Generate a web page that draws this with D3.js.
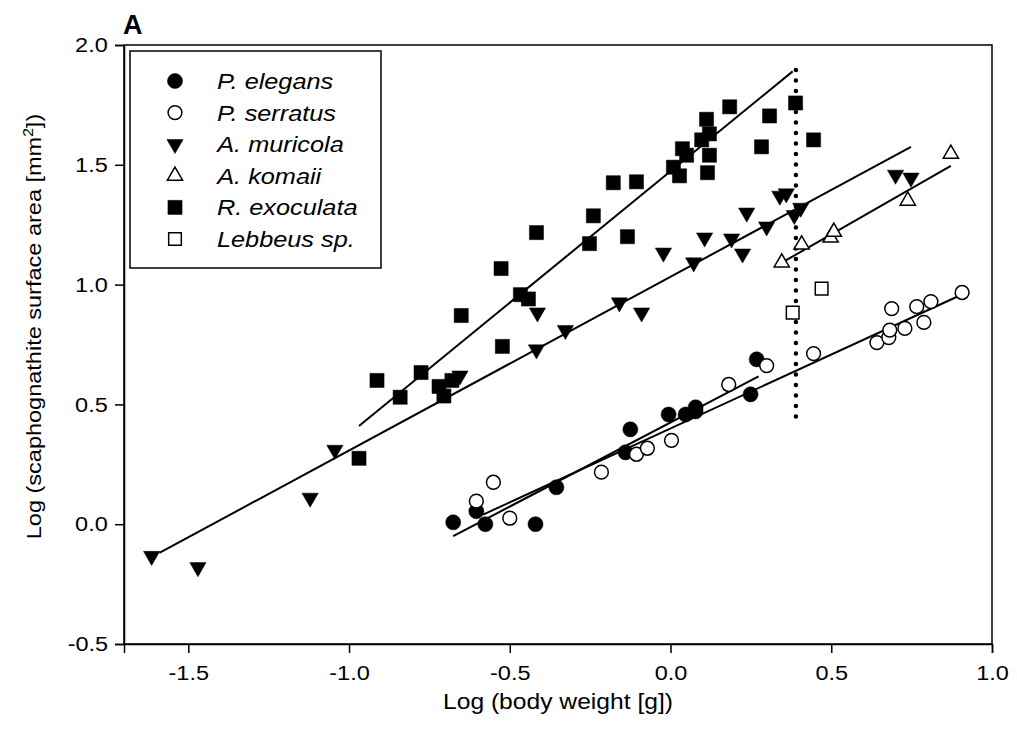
<!DOCTYPE html>
<html>
<head>
<meta charset="utf-8">
<script src="https://cdn.jsdelivr.net/npm/d3@7"></script>
<style>
  body { margin: 0; background: #fff; }
  svg { display: block; font-family: "Liberation Sans", Arial, sans-serif; }
  .wide { transform-box: fill-box; transform-origin: center; transform: scaleX(1.12); }
</style>
</head>
<body>
<svg id="chart" width="1017" height="731"></svg>
<script>
// Values (log body weight, log scaphognathite area)
const pElegans = [
  [-0.676, 0.008], [-0.604, 0.054], [-0.576, 0.0], [-0.42, 0.0], [-0.355, 0.154],
  [-0.14, 0.30], [-0.125, 0.396], [-0.006, 0.458], [0.047, 0.458], [0.078, 0.471],
  [0.078, 0.488], [0.249, 0.542], [0.268, 0.688]
];
const pSerratus = [
  [-0.604, 0.096], [-0.551, 0.175], [-0.50, 0.025], [-0.215, 0.217], [-0.106, 0.292],
  [-0.072, 0.317], [0.003, 0.35], [0.181, 0.583], [0.299, 0.662], [0.445, 0.712],
  [0.642, 0.758], [0.679, 0.779], [0.682, 0.81], [0.688, 0.90], [0.729, 0.817],
  [0.766, 0.908], [0.788, 0.842], [0.81, 0.929], [0.907, 0.967]
];
const aMuricola = [
  [-1.614, -0.133], [-1.47, -0.18], [-1.121, 0.11], [-1.044, 0.31], [-0.655, 0.62],
  [-0.414, 0.883], [-0.417, 0.729], [-0.327, 0.81], [-0.159, 0.925], [-0.09, 0.883],
  [-0.022, 1.133], [0.072, 1.092], [0.106, 1.196], [0.19, 1.192], [0.224, 1.129],
  [0.237, 1.30], [0.299, 1.242], [0.34, 1.37], [0.36, 1.38], [0.385, 1.29],
  [0.405, 1.32], [0.70, 1.458], [0.748, 1.446]
];
const aKomaii = [
  [0.346, 1.092], [0.408, 1.167], [0.498, 1.196], [0.508, 1.22], [0.738, 1.35], [0.872, 1.546]
];
const rExoculata = [
  [-0.969, 0.275], [-0.913, 0.60], [-0.841, 0.53], [-0.776, 0.633], [-0.72, 0.575],
  [-0.705, 0.535], [-0.68, 0.60], [-0.651, 0.871], [-0.523, 0.742], [-0.527, 1.067],
  [-0.467, 0.958], [-0.442, 0.94], [-0.417, 1.217], [-0.252, 1.171], [-0.24, 1.287],
  [-0.134, 1.20], [-0.178, 1.425], [-0.106, 1.429], [0.009, 1.49], [0.028, 1.454],
  [0.037, 1.567], [0.05, 1.54], [0.097, 1.604], [0.112, 1.69], [0.121, 1.629],
  [0.121, 1.54], [0.115, 1.467], [0.184, 1.742], [0.308, 1.704], [0.283, 1.575],
  [0.389, 1.758], [0.445, 1.604]
];
const lebbeus = [[0.38, 0.883], [0.47, 0.983]];

// Regression lines, start and end points
const fitElegans = [[-0.676, -0.05], [0.274, 0.617]];
const fitSerratus = [[-0.583, 0.04], [0.92, 0.967]];
const fitMuricola = [[-1.59, -0.12], [0.748, 1.575]];
const fitKomaii = [[0.352, 1.096], [0.872, 1.496]];
const fitExoculata = [[-0.969, 0.41], [0.38, 1.89]];
const cutoff = [[0.39, 0.45], [0.39, 1.93]];

const xTicks = [-1.5, -1.0, -0.5, 0.0, 0.5, 1.0];
const yTicks = [-0.5, 0.0, 0.5, 1.0, 1.5, 2.0];
const legendNames = ["P. elegans", "P. serratus", "A. muricola", "A. komaii", "R. exoculata", "Lebbeus sp."];

// Layout
const margin = { left: 124, top: 45, right: 25, bottom: 87 };
const W = 1017, H = 731;
const svg = d3.select("#chart");

const x = d3.scaleLinear().domain([-1.7, 1.0]).range([margin.left, W - margin.right]);
const y = d3.scaleLinear().domain([-0.5, 2.0]).range([H - margin.bottom, margin.top]);

// Marker styles per species
const styles = [
  { data: pElegans, type: d3.symbolCircle, size: 180, fill: "#000", rot: 0 },
  { data: pSerratus, type: d3.symbolCircle, size: 150, fill: "#fff", rot: 0 },
  { data: aMuricola, type: d3.symbolTriangle, size: 115, fill: "#000", rot: 180 },
  { data: aKomaii, type: d3.symbolTriangle, size: 100, fill: "#fff", rot: 0 },
  { data: rExoculata, type: d3.symbolSquare, size: 200, fill: "#000", rot: 0 },
  { data: lebbeus, type: d3.symbolSquare, size: 160, fill: "#fff", rot: 0 }
];

// Frame
svg.append("rect")
  .attr("x", x(-1.7)).attr("y", y(2.0))
  .attr("width", x(1.0) - x(-1.7)).attr("height", y(-0.5) - y(2.0))
  .attr("fill", "none").attr("stroke", "#000").attr("stroke-width", 1.5);

// Axes, labels use a plain hyphen like the original
const fmt = d => d.toFixed(1);
const xAxis = svg.append("g")
  .attr("transform", `translate(0,${y(-0.5)})`)
  .call(d3.axisBottom(x).tickValues(xTicks).tickFormat(fmt).tickSize(9).tickPadding(12));
const yAxis = svg.append("g")
  .attr("transform", `translate(${x(-1.7)},0)`)
  .call(d3.axisLeft(y).tickValues(yTicks).tickFormat(fmt).tickSize(9).tickPadding(9));

[xAxis, yAxis].forEach(g => {
  g.attr("font-size", 21).attr("font-family", null);
  g.select(".domain").attr("stroke-width", 1.5);
  g.selectAll(".tick line").attr("stroke-width", 1.5);
  g.selectAll(".tick text").attr("fill", "#000").attr("class", "wide");
});

// Axis titles
svg.append("text")
  .attr("class", "wide")
  .attr("x", (x(-1.7) + x(1.0)) / 2).attr("y", 709)
  .attr("text-anchor", "middle").attr("font-size", 22)
  .text("Log (body weight [g])");

const yt = svg.append("g")
  .attr("transform", `translate(41,${(y(-0.5) + y(2.0)) / 2 - 18}) rotate(-90)`)
  .append("text")
  .attr("class", "wide")
  .attr("text-anchor", "middle").attr("font-size", 21);
yt.append("tspan").text("Log (scaphognathite surface area [mm");
yt.append("tspan").attr("dy", -8).attr("font-size", 14).text("2");
yt.append("tspan").attr("dy", 8).text("])");

// Panel letter
svg.append("text")
  .attr("x", 123).attr("y", 34)
  .attr("font-size", 27).attr("font-weight", "bold")
  .text("A");

// Fit lines
const line = d3.line().x(d => x(d[0])).y(d => y(d[1]));
[fitElegans, fitSerratus, fitMuricola, fitKomaii, fitExoculata].forEach(f => {
  svg.append("path").attr("d", line(f))
    .attr("fill", "none").attr("stroke", "#000").attr("stroke-width", 2);
});

// Dotted vertical line
svg.append("path").attr("d", line(cutoff))
  .attr("fill", "none").attr("stroke", "#000").attr("stroke-width", 4.5)
  .attr("stroke-linecap", "round").attr("stroke-dasharray", "0,10.5");

// Points
styles.forEach(s => {
  svg.append("g").selectAll("path")
    .data(s.data)
    .join("path")
      .attr("transform", d => `translate(${x(d[0])},${y(d[1])}) rotate(${s.rot})`)
      .attr("d", d3.symbol().type(s.type).size(s.size))
      .attr("fill", s.fill)
      .attr("stroke", "#000")
      .attr("stroke-width", s.fill === "#fff" ? 1.5 : 0.5);
});

// Legend
const lg = svg.append("g");
lg.append("rect")
  .attr("x", 130).attr("y", 51).attr("width", 251).attr("height", 217)
  .attr("fill", "#fff").attr("stroke", "#000").attr("stroke-width", 1.5);
legendNames.forEach((name, i) => {
  const s = styles[i];
  const cy = 81 + i * 31.6;
  lg.append("path")
    .attr("transform", `translate(175,${cy}) rotate(${s.rot})`)
    .attr("d", d3.symbol().type(s.type).size(s.size))
    .attr("fill", s.fill).attr("stroke", "#000")
    .attr("stroke-width", s.fill === "#fff" ? 1.5 : 0.5);
  lg.append("text")
    .attr("x", 217).attr("y", cy + 8)
    .attr("font-size", 22).attr("font-style", "italic")
    .style("transform-box", "fill-box").style("transform-origin", "left")
    .style("transform", "scaleX(1.15)")
    .text(name);
});
</script>
</body>
</html>
